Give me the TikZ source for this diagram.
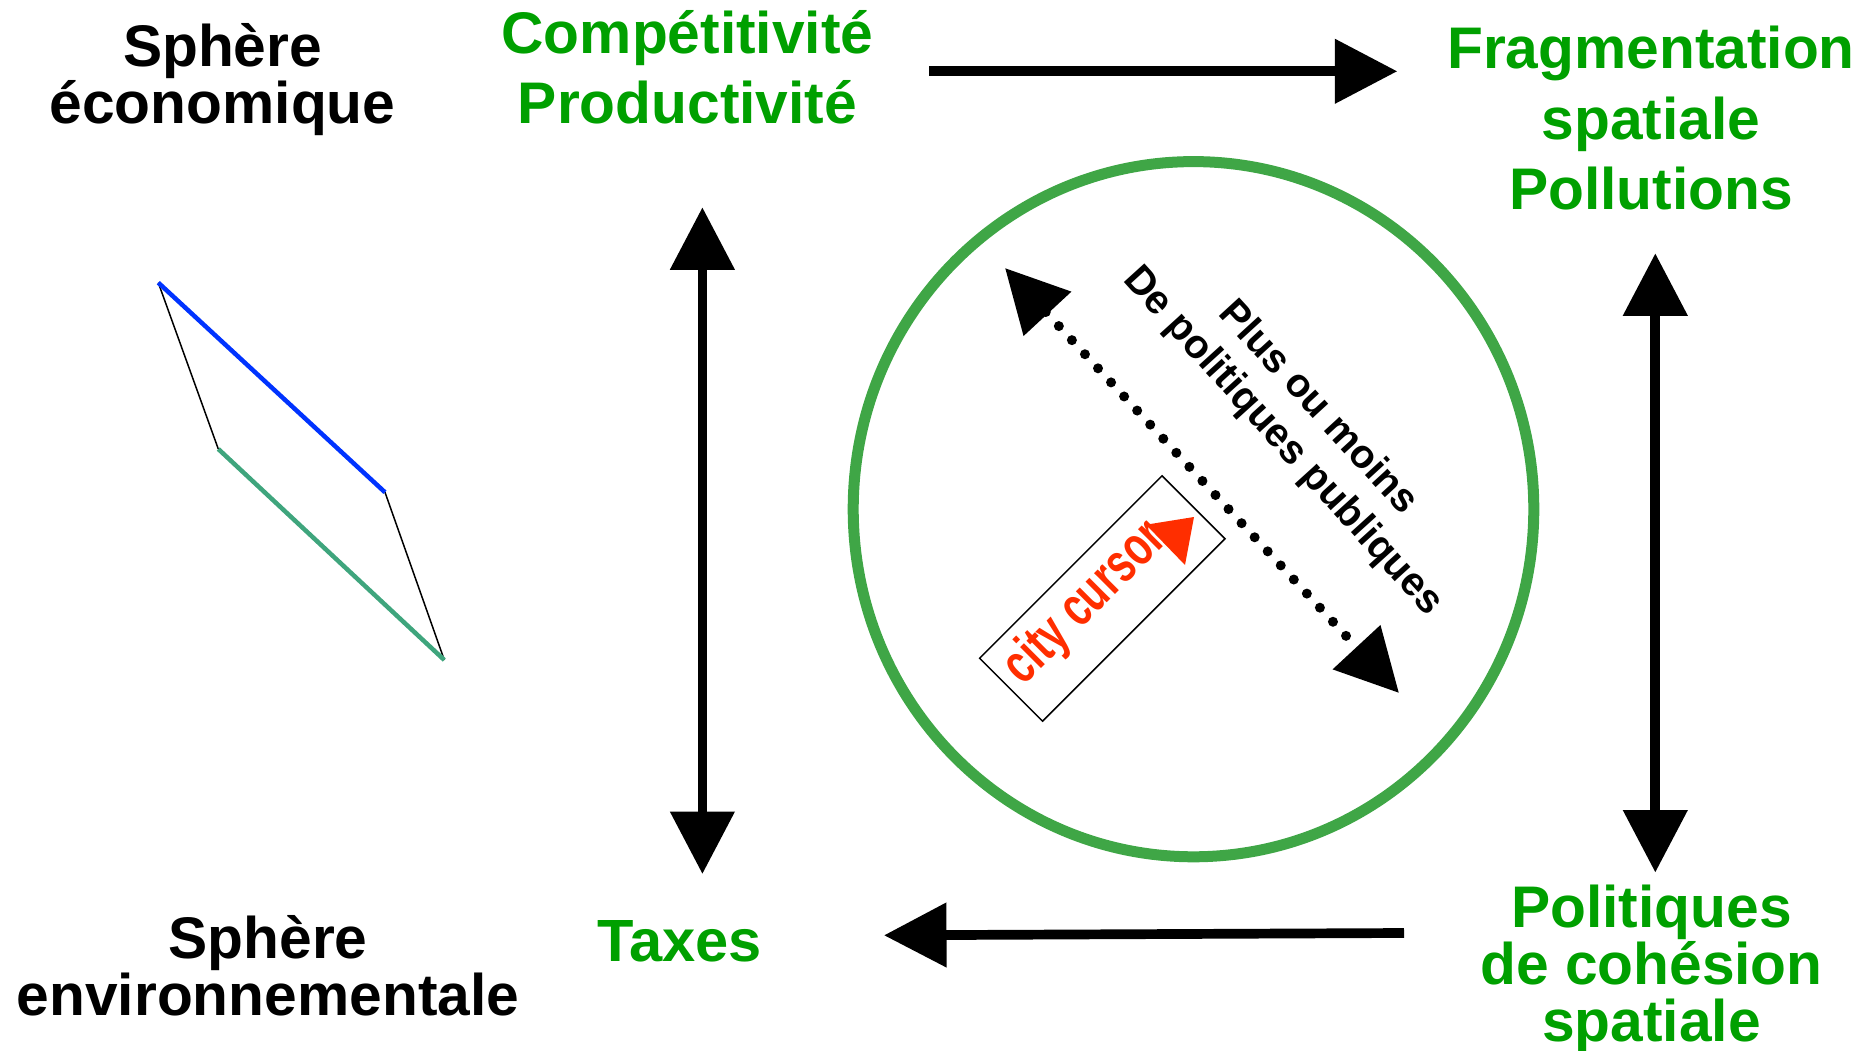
\documentclass[tikz,border=0pt]{standalone}
\usepackage{fontspec}
\setmainfont{Liberation Sans}
\usetikzlibrary{arrows.meta,shapes.geometric}
\definecolor{lblgreen}{HTML}{00A000}
\definecolor{ringgreen}{HTML}{3FA646}
\definecolor{cursorred}{HTML}{FF2E00}
\definecolor{segblue}{HTML}{0033FF}
\definecolor{seggreen}{HTML}{3FA57D}
\tikzset{
  >={Triangle[length=62.5pt,width=62.5pt,sharp]},
  biglabel/.style={inner sep=0pt,align=center,font=\fontsize{58.7}{70.5}\selectfont\bfseries},
  tightlabel/.style={biglabel,font=\fontsize{58.7}{57}\selectfont\bfseries},
  flow/.style={line width=9.7pt,->},
  dflow/.style={line width=9.7pt,<->},
  dotflow/.style={line width=10pt,line cap=round,dash pattern=on 0pt off 19.2pt,<->},
  slanted/.style={inner sep=0pt,anchor=base west,rotate=-47.5,font=\fontsize{40}{40}\selectfont\bfseries},
}
\begin{document}
\begin{tikzpicture}[x=1pt,y=-1pt]
\useasboundingbox (0,0) rectangle (1872,1051);
% labels
\node[tightlabel] (eco) at (222.5,79.5) {Sphère\\économique};
\node[biglabel,text=lblgreen] (comp) at (687.5,67.5) {Compétitivité\\Productivité};
\node[biglabel,text=lblgreen] (frag) at (1651,118.5) {Fragmentation\\spatiale\\Pollutions};
\node[tightlabel] (env) at (268,966) {Sphère\\environnementale};
\node[biglabel,text=lblgreen,font=\fontsize{59.6}{70}\selectfont\bfseries] (tax) at (679.5,941) {Taxes};
\node[tightlabel,text=lblgreen] (pol) at (1651.5,969.5) {Politiques\\de cohésion\\spatiale};
% ring
\node[ellipse,draw=ringgreen,line width=11pt,minimum width=680.6pt,minimum height=695.2pt,inner sep=0pt] (ring) at (1193.5,509.2) {};
% free ends of connectors
\coordinate (t1) at (929,71.3);
\coordinate (t2) at (1397.3,71.3);
\coordinate (l1) at (702.4,207.3);
\coordinate (l2) at (702.4,874);
\coordinate (r1) at (1655.3,253.3);
\coordinate (r2) at (1655.3,872.5);
\coordinate (b1) at (1404,933);
\coordinate (b2) at (884,935.3);
\coordinate (d1) at (1005,268);
\coordinate (d2) at (1399,693);
\draw[flow] (t1) -- (t2);
\draw[dflow] (l1) -- (l2);
\draw[dflow] (r1) -- (r2);
\draw[flow] (b1) -- (b2);
\draw[dotflow] (d1) -- (d2);
% slanted text
\node[slanted] (plus) at (1217.6,314.2) {Plus ou moins};
\node[slanted,rotate=-0.3,font=\fontsize{40.3}{40}\selectfont\bfseries] (depol) at (1121.9,280.2) {De politiques publiques};
% cursor
\node[draw,line width=1.5pt,rotate=45,minimum width=258pt,minimum height=89pt,inner sep=0pt] (box) at (1102.3,598.5) {};
\node[inner sep=0pt,anchor=base,rotate=45,text=cursorred,font=\fontsize{56}{56}\selectfont\bfseries] (city) at (1096,614) {\scalebox{0.715}[1]{city cursor}};
\fill[cursorred] (1194,517) -- (1146,524.7) -- (1185,565) -- cycle;
% parallelogram
\coordinate (pa) at (158.3,282.7);
\coordinate (pb) at (385,492.3);
\coordinate (pc) at (218.3,449);
\coordinate (pd) at (444.3,660);
\draw[line width=1.5pt] (pa) -- (pc);
\draw[line width=1.5pt] (pb) -- (pd);
\draw[line width=4.5pt,segblue] (pa) -- (pb);
\draw[line width=4.5pt,seggreen] (pc) -- (pd);
\end{tikzpicture}
\end{document}
